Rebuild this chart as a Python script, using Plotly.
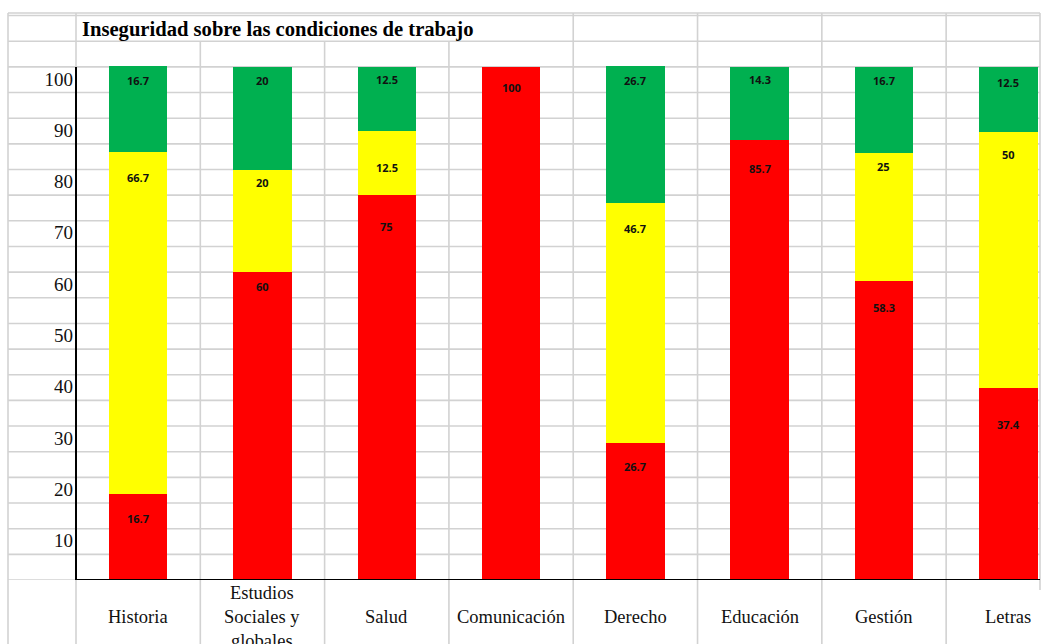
import plotly.graph_objects as go

# Survey results per academic area (percent of respondents)
areas = ["Historia", "Estudios Sociales y globales", "Salud", "Comunicación",
         "Derecho", "Educación", "Gestión", "Letras"]
area_labels = ["Historia", "Estudios<br>Sociales y<br>globales", "Salud", "Comunicación",
               "Derecho", "Educación", "Gestión", "Letras"]
red_vals = [16.7, 60, 75, 100, 26.7, 85.7, 58.3, 37.4]
yellow_vals = [66.7, 20, 12.5, 0, 46.7, 0, 25, 50]
green_vals = [16.7, 20, 12.5, 0, 26.7, 14.3, 16.7, 12.5]
y_ticks = [10, 20, 30, 40, 50, 60, 70, 80, 90, 100]
title_text = "Inseguridad sobre las condiciones de trabajo"

# how far (px) each value label sits below the top of its segment
label_drop = {
    "red":    [24, 14, 31, 21, 23, 28, 27, 36],
    "yellow": [25, 13, 36, 0, 25, 0, 14, 23],
    "green":  [14, 14, 13, 0, 14, 13, 14, 15],
}

W, H = 1041, 644
ML, MR, MT, MB = 76, 1, 13, 64
Y_RANGE = [0, 110.5]
X_RANGE = [-0.5, 7.255]
plot_w = W - ML - MR
plot_h = H - MT - MB


def px_x(p):
    """pixel column -> paper x"""
    return (p - ML) / plot_w


def px_y(p):
    """pixel row -> paper y"""
    return (H - MB - p) / plot_h


GRID = "#D2D2D2"
GRID_W = 1.6
SERIF = "Liberation Serif, Times New Roman, serif"

fig = go.Figure()
colors = {"red": "#FF0000", "yellow": "#FFFF00", "green": "#00B050"}
series = {"red": red_vals, "yellow": yellow_vals, "green": green_vals}
for name, vals in series.items():
    fig.add_trace(go.Bar(
        x=areas, y=vals, name=name, width=0.47,
        marker=dict(color=colors[name], line=dict(width=0)),
        hoverinfo="skip", showlegend=False,
    ))

# value labels near the top of each segment
annotations = []
for i, area in enumerate(areas):
    base = 0.0
    for name in ["red", "yellow", "green"]:
        v = series[name][i]
        top = base + v
        if v > 0:
            annotations.append(dict(
                x=area, y=top, xref="x", yref="y", text=f"{v:g}",
                showarrow=False, yanchor="middle", yshift=-label_drop[name][i],
                font=dict(family="Open Sans, Liberation Sans, sans-serif",
                          size=11, color="#111111", weight="bold"),
            ))
        base = top

# category names, vertically centred in the row under the axis
for area, lab in zip(areas, area_labels):
    annotations.append(dict(
        x=area, y=px_y(617), xref="x", yref="paper", text=lab,
        showarrow=False, yanchor="middle", xanchor="center",
        font=dict(family=SERIF, size=18.5, color="#111111"),
    ))

# title in the merged top cell
annotations.append(dict(
    x=px_x(80), y=px_y(29), xref="paper", yref="paper", text=f"<b>{title_text}</b>",
    showarrow=False, xanchor="left", yanchor="middle",
    font=dict(family=SERIF, size=20.6, color="#000000"),
))

shapes = []
left_edge = px_x(8)
# spreadsheet rows: every 5 units, running across the left column too
for v in range(0, 111, 5):
    shapes.append(dict(type="line", xref="paper", yref="y", x0=left_edge, x1=1,
                       y0=v, y1=v, line=dict(color=GRID, width=GRID_W), layer="below"))
# top border of the sheet
shapes.append(dict(type="line", xref="paper", yref="paper", x0=left_edge, x1=1,
                   y0=1, y1=1, line=dict(color=GRID, width=GRID_W), layer="below"))
# left sheet border
shapes.append(dict(type="line", xref="paper", yref="paper", x0=left_edge, x1=left_edge,
                   y0=1, y1=px_y(H + 5), line=dict(color=GRID, width=GRID_W), layer="below"))
# column border at the axis: above 100 and below the baseline
shapes.append(dict(type="line", xref="paper", yref="y", x0=0, x1=0,
                   y0=100, y1=Y_RANGE[1], line=dict(color=GRID, width=GRID_W), layer="below"))
shapes.append(dict(type="line", xref="paper", yref="paper", x0=0, x1=0,
                   y0=0, y1=px_y(H + 5), line=dict(color=GRID, width=GRID_W), layer="below"))
# column borders between areas; the first three stop under the merged title cell
for k in range(7):
    xb = k + 0.5
    y_top = 105 if k < 3 else Y_RANGE[1]
    shapes.append(dict(type="line", xref="x", yref="y", x0=xb, x1=xb,
                       y0=0, y1=y_top, line=dict(color=GRID, width=GRID_W), layer="below"))
    shapes.append(dict(type="line", xref="x", yref="paper", x0=xb, x1=xb,
                       y0=px_y(H + 5), y1=0, line=dict(color=GRID, width=GRID_W), layer="below"))
# right border of the chart object
shapes.append(dict(type="line", xref="paper", yref="paper", x0=1, x1=1,
                   y0=1, y1=px_y(590), line=dict(color=GRID, width=GRID_W), layer="below"))
# axis lines
shapes.append(dict(type="line", xref="paper", yref="y", x0=0, x1=1,
                   y0=0, y1=0, line=dict(color="#000000", width=2), layer="above"))
shapes.append(dict(type="line", xref="paper", yref="y", x0=0, x1=0,
                   y0=0, y1=100, line=dict(color="#000000", width=2), layer="above"))

fig.update_layout(
    width=W, height=H,
    margin=dict(l=ML, r=MR, t=MT, b=MB, pad=0),
    barmode="stack", bargap=0.53,
    paper_bgcolor="white", plot_bgcolor="white",
    showlegend=False,
    xaxis=dict(type="category", range=X_RANGE, showticklabels=False,
               showgrid=False, zeroline=False, showline=False, fixedrange=True),
    yaxis=dict(range=Y_RANGE, tickvals=y_ticks, ticktext=[str(t) for t in y_ticks],
               ticks="", showgrid=False, zeroline=False, showline=False,
               ticklabelshift=12, ticklabelstandoff=2,
               tickfont=dict(family=SERIF, size=19, color="#111111"), fixedrange=True),
    annotations=annotations,
    shapes=shapes,
)

fig.write_html("out.html")
